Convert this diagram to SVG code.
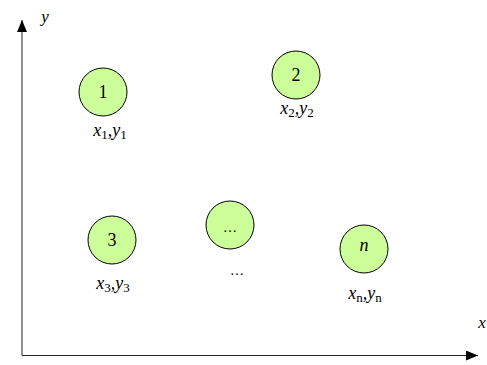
<svg xmlns="http://www.w3.org/2000/svg" width="487" height="365" viewBox="0 0 487 365">
<style>
.node{fill:#ccff99;stroke:#000;stroke-width:1}
.axis{stroke:#222;stroke-width:1;fill:none}
</style>
<defs>
<marker id="ah" markerWidth="12" markerHeight="10" refX="12" refY="5" orient="auto" markerUnits="userSpaceOnUse">
<path d="M0,0 L12,5 L0,10 Z" fill="#000"/>
</marker>
</defs>
<rect width="487" height="365" fill="#fff"/>
<g id="connectors">
<line class="axis" x1="22" y1="355.5" x2="22" y2="20" marker-end="url(#ah)"/>
<line class="axis" x1="22" y1="355.5" x2="478" y2="355.5" marker-end="url(#ah)"/>
</g>
<g font-family="Liberation Serif, Tinos, DejaVu Serif, serif" fill="#000">
<g id="axis-labels" font-size="17" font-style="italic" text-anchor="middle">
<text x="45" y="22">y</text>
<text x="482" y="328">x</text>
</g>
<g id="node1" text-anchor="middle">
<circle class="node" cx="103" cy="92" r="24"/>
<text x="103" y="98" font-size="18">1</text>
<text x="110" y="136" font-size="18" font-style="italic">x<tspan font-size="13" font-style="normal" dy="3">1</tspan><tspan dy="-3">,y</tspan><tspan font-size="13" font-style="normal" dy="3">1</tspan></text>
</g>
<g id="node2" text-anchor="middle">
<circle class="node" cx="296" cy="75" r="24"/>
<text x="296" y="81" font-size="18">2</text>
<text x="297" y="114" font-size="18" font-style="italic">x<tspan font-size="13" font-style="normal" dy="3">2</tspan><tspan dy="-3">,y</tspan><tspan font-size="13" font-style="normal" dy="3">2</tspan></text>
</g>
<g id="node3" text-anchor="middle">
<circle class="node" cx="112" cy="240" r="24"/>
<text x="112" y="246" font-size="18">3</text>
<text x="113" y="289" font-size="18" font-style="italic">x<tspan font-size="13" font-style="normal" dy="3">3</tspan><tspan dy="-3">,y</tspan><tspan font-size="13" font-style="normal" dy="3">3</tspan></text>
</g>
<g id="node-dots" text-anchor="middle">
<circle class="node" cx="230" cy="225" r="24"/>
<text x="230" y="232" font-size="14">…</text>
<text x="237" y="275" font-size="14">…</text>
</g>
<g id="node-n" text-anchor="middle">
<circle class="node" cx="364" cy="249" r="24"/>
<text x="364" y="251" font-size="18" font-style="italic">n</text>
<text x="365" y="299" font-size="18" font-style="italic">x<tspan font-size="13" font-style="normal" dy="3">n</tspan><tspan dy="-3">,y</tspan><tspan font-size="13" font-style="normal" dy="3">n</tspan></text>
</g>
</g>
</svg>
